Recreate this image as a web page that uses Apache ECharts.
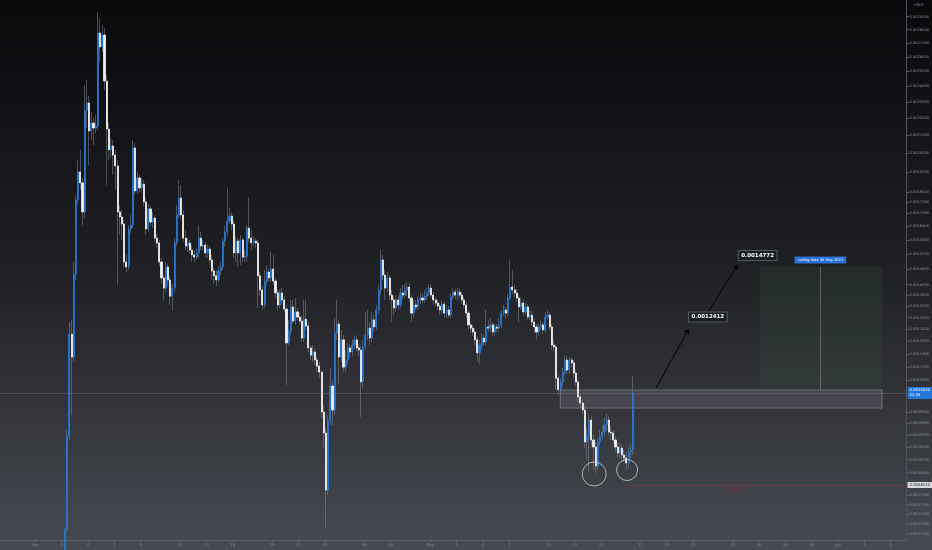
<!DOCTYPE html>
<html><head><meta charset="utf-8">
<script src="https://cdn.jsdelivr.net/npm/echarts@6/dist/echarts.min.js"></script>
<style>html,body{margin:0;padding:0;background:#000}#c{width:932px;height:550px}</style>
</head><body><div id="c"></div>
<script>
// ---- data (4h candles, USDT) ----
const candleStart = Date.UTC(2021, 3, 3, 6);
const candleStepHours = 4;
const open = [
.6625e-3,.7187e-3,.9278e-3,1.224e-3,1.150e-3,1.441e-3,1.762e-3,1.902e-3,1.846e-3,1.706e-3,
2.251e-3,2.294e-3,2.126e-3,2.172e-3,2.143e-3,2.155e-3,2.774e-3,2.671e-3,2.759e-3,2.435e-3,
2.137e-3,2.019e-3,2.041e-3,1.991e-3,1.933e-3,1.706e-3,1.683e-3,1.651e-3,1.489e-3,1.469e-3,
1.629e-3,1.646e-3,2.030e-3,1.806e-3,1.871e-3,1.821e-3,1.840e-3,1.753e-3,1.629e-3,1.720e-3,
1.660e-3,1.678e-3,1.589e-3,1.568e-3,1.489e-3,1.426e-3,1.387e-3,1.469e-3,1.418e-3,1.357e-3,
1.387e-3,1.568e-3,1.692e-3,1.772e-3,1.692e-3,1.589e-3,1.555e-3,1.568e-3,1.538e-3,1.518e-3,
1.509e-3,1.526e-3,1.589e-3,1.555e-3,1.559e-3,1.526e-3,1.542e-3,1.497e-3,1.453e-3,1.434e-3,
1.418e-3,1.453e-3,1.469e-3,1.576e-3,1.615e-3,1.664e-3,1.687e-3,1.651e-3,1.526e-3,1.576e-3,
1.526e-3,1.581e-3,1.509e-3,1.513e-3,1.633e-3,1.589e-3,1.568e-3,1.576e-3,1.568e-3,1.434e-3,
1.380e-3,1.325e-3,1.414e-3,1.449e-3,1.426e-3,1.461e-3,1.414e-3,1.369e-3,1.325e-3,1.369e-3,
1.343e-3,1.310e-3,1.195e-3,1.234e-3,1.318e-3,1.268e-3,1.300e-3,1.282e-3,1.268e-3,1.211e-3,
1.275e-3,1.251e-3,1.179e-3,1.156e-3,1.166e-3,1.141e-3,1.122e-3,1.104e-3,.9904e-3,.9354e-3,
.8013e-3,.9691e-3,1.063e-3,.9958e-3,1.228e-3,1.258e-3,1.150e-3,1.205e-3,1.119e-3,1.141e-3,
1.179e-3,1.166e-3,1.188e-3,1.205e-3,1.179e-3,1.172e-3,1.075e-3,1.182e-3,1.221e-3,1.244e-3,
1.211e-3,1.272e-3,1.248e-3,1.307e-3,1.380e-3,1.497e-3,1.437e-3,1.387e-3,1.426e-3,1.361e-3,
1.343e-3,1.314e-3,1.343e-3,1.325e-3,1.369e-3,1.361e-3,1.380e-3,1.391e-3,1.350e-3,1.296e-3,
1.325e-3,1.318e-3,1.343e-3,1.350e-3,1.343e-3,1.357e-3,1.369e-3,1.387e-3,1.361e-3,1.343e-3,
1.332e-3,1.321e-3,1.307e-3,1.328e-3,1.296e-3,1.307e-3,1.289e-3,1.354e-3,1.372e-3,1.361e-3,
1.372e-3,1.361e-3,1.343e-3,1.325e-3,1.296e-3,1.255e-3,1.244e-3,1.231e-3,1.205e-3,1.163e-3,
1.188e-3,1.211e-3,1.198e-3,1.248e-3,1.244e-3,1.255e-3,1.231e-3,1.248e-3,1.244e-3,1.255e-3,
1.296e-3,1.307e-3,1.296e-3,1.350e-3,1.391e-3,1.380e-3,1.369e-3,1.350e-3,1.318e-3,1.332e-3,
1.300e-3,1.318e-3,1.282e-3,1.289e-3,1.265e-3,1.248e-3,1.231e-3,1.248e-3,1.255e-3,1.238e-3,
1.282e-3,1.289e-3,1.248e-3,1.188e-3,1.182e-3,1.086e-3,1.052e-3,1.075e-3,1.104e-3,1.141e-3,
1.110e-3,1.141e-3,1.132e-3,1.101e-3,1.075e-3,1.032e-3,1.015e-3,.9958e-3,.9129e-3,.9278e-3,
.9691e-3,.9179e-3,.9006e-3,.8553e-3,.9129e-3,.9278e-3,.9380e-3,.9560e-3,.9691e-3,.9380e-3,
.9354e-3,.9179e-3,.9006e-3,.8861e-3,.8982e-3,.8813e-3,.8741e-3,.8623e-3,.8885e-3,.8933e-3
];
const close = [
.7187e-3,.9278e-3,1.224e-3,1.150e-3,1.441e-3,1.762e-3,1.902e-3,1.846e-3,1.706e-3,2.251e-3,
2.294e-3,2.126e-3,2.172e-3,2.143e-3,2.155e-3,2.774e-3,2.671e-3,2.759e-3,2.435e-3,2.137e-3,
2.019e-3,2.041e-3,1.991e-3,1.933e-3,1.706e-3,1.683e-3,1.651e-3,1.489e-3,1.469e-3,1.629e-3,
1.646e-3,2.030e-3,1.806e-3,1.871e-3,1.821e-3,1.840e-3,1.753e-3,1.629e-3,1.720e-3,1.660e-3,
1.678e-3,1.589e-3,1.568e-3,1.489e-3,1.426e-3,1.387e-3,1.469e-3,1.418e-3,1.357e-3,1.387e-3,
1.568e-3,1.692e-3,1.772e-3,1.692e-3,1.589e-3,1.555e-3,1.568e-3,1.538e-3,1.518e-3,1.509e-3,
1.526e-3,1.589e-3,1.555e-3,1.559e-3,1.526e-3,1.542e-3,1.497e-3,1.453e-3,1.434e-3,1.418e-3,
1.453e-3,1.469e-3,1.576e-3,1.615e-3,1.664e-3,1.687e-3,1.651e-3,1.526e-3,1.576e-3,1.526e-3,
1.581e-3,1.509e-3,1.513e-3,1.633e-3,1.589e-3,1.568e-3,1.576e-3,1.568e-3,1.434e-3,1.380e-3,
1.325e-3,1.414e-3,1.449e-3,1.426e-3,1.461e-3,1.414e-3,1.369e-3,1.325e-3,1.369e-3,1.343e-3,
1.310e-3,1.195e-3,1.234e-3,1.318e-3,1.268e-3,1.300e-3,1.282e-3,1.268e-3,1.211e-3,1.275e-3,
1.251e-3,1.179e-3,1.156e-3,1.166e-3,1.141e-3,1.122e-3,1.104e-3,.9904e-3,.9354e-3,.8013e-3,
.9691e-3,1.063e-3,.9958e-3,1.228e-3,1.258e-3,1.150e-3,1.205e-3,1.119e-3,1.141e-3,1.179e-3,
1.166e-3,1.188e-3,1.205e-3,1.179e-3,1.172e-3,1.075e-3,1.182e-3,1.221e-3,1.244e-3,1.211e-3,
1.272e-3,1.248e-3,1.307e-3,1.380e-3,1.497e-3,1.437e-3,1.387e-3,1.426e-3,1.361e-3,1.343e-3,
1.314e-3,1.343e-3,1.325e-3,1.369e-3,1.361e-3,1.380e-3,1.391e-3,1.350e-3,1.296e-3,1.325e-3,
1.318e-3,1.343e-3,1.350e-3,1.343e-3,1.357e-3,1.369e-3,1.387e-3,1.361e-3,1.343e-3,1.332e-3,
1.321e-3,1.307e-3,1.328e-3,1.296e-3,1.307e-3,1.289e-3,1.354e-3,1.372e-3,1.361e-3,1.372e-3,
1.361e-3,1.343e-3,1.325e-3,1.296e-3,1.255e-3,1.244e-3,1.231e-3,1.205e-3,1.163e-3,1.188e-3,
1.211e-3,1.198e-3,1.248e-3,1.244e-3,1.255e-3,1.231e-3,1.248e-3,1.244e-3,1.255e-3,1.296e-3,
1.307e-3,1.296e-3,1.350e-3,1.391e-3,1.380e-3,1.369e-3,1.350e-3,1.318e-3,1.332e-3,1.300e-3,
1.318e-3,1.282e-3,1.289e-3,1.265e-3,1.248e-3,1.231e-3,1.248e-3,1.255e-3,1.238e-3,1.282e-3,
1.289e-3,1.248e-3,1.188e-3,1.182e-3,1.086e-3,1.052e-3,1.075e-3,1.104e-3,1.141e-3,1.110e-3,
1.141e-3,1.132e-3,1.101e-3,1.075e-3,1.032e-3,1.015e-3,.9958e-3,.9129e-3,.9278e-3,.9691e-3,
.9179e-3,.9006e-3,.8553e-3,.9129e-3,.9278e-3,.9380e-3,.9560e-3,.9691e-3,.9380e-3,.9354e-3,
.9179e-3,.9006e-3,.8861e-3,.8982e-3,.8813e-3,.8741e-3,.8623e-3,.8885e-3,.8933e-3,1.043e-3
];
const low = [
.6625e-3,.7148e-3,.9179e-3,.9824e-3,1.135e-3,1.418e-3,1.738e-3,1.811e-3,1.646e-3,1.678e-3,
2.143e-3,1.938e-3,2.074e-3,2.046e-3,2.114e-3,2.131e-3,2.564e-3,2.635e-3,2.376e-3,1.835e-3,
1.965e-3,1.975e-3,1.886e-3,1.811e-3,1.399e-3,1.602e-3,1.581e-3,1.465e-3,1.449e-3,1.457e-3,
1.611e-3,1.633e-3,1.786e-3,1.791e-3,1.801e-3,1.796e-3,1.734e-3,1.602e-3,1.615e-3,1.642e-3,
1.633e-3,1.572e-3,1.551e-3,1.473e-3,1.406e-3,1.343e-3,1.372e-3,1.395e-3,1.325e-3,1.307e-3,
1.372e-3,1.555e-3,1.678e-3,1.669e-3,1.572e-3,1.538e-3,1.530e-3,1.522e-3,1.489e-3,1.489e-3,
1.497e-3,1.505e-3,1.538e-3,1.538e-3,1.505e-3,1.505e-3,1.477e-3,1.418e-3,1.403e-3,1.395e-3,
1.406e-3,1.437e-3,1.457e-3,1.555e-3,1.598e-3,1.651e-3,1.624e-3,1.505e-3,1.489e-3,1.469e-3,
1.477e-3,1.489e-3,1.489e-3,1.489e-3,1.572e-3,1.538e-3,1.551e-3,1.547e-3,1.314e-3,1.357e-3,
1.307e-3,1.314e-3,1.399e-3,1.410e-3,1.410e-3,1.399e-3,1.350e-3,1.307e-3,1.314e-3,1.325e-3,
1.300e-3,1.066e-3,1.188e-3,1.221e-3,1.258e-3,1.255e-3,1.272e-3,1.258e-3,1.198e-3,1.198e-3,
1.238e-3,1.166e-3,1.141e-3,1.135e-3,1.125e-3,1.104e-3,1.086e-3,.9744e-3,.8982e-3,.7207e-3,
.7905e-3,.9560e-3,.9560e-3,.9824e-3,1.205e-3,1.066e-3,1.135e-3,1.104e-3,1.104e-3,1.125e-3,
1.147e-3,1.153e-3,1.172e-3,1.166e-3,1.153e-3,.9771e-3,1.057e-3,1.172e-3,1.205e-3,1.188e-3,
1.198e-3,1.231e-3,1.238e-3,1.293e-3,1.361e-3,1.418e-3,1.343e-3,1.372e-3,1.343e-3,1.265e-3,
1.289e-3,1.300e-3,1.307e-3,1.314e-3,1.343e-3,1.350e-3,1.357e-3,1.336e-3,1.265e-3,1.279e-3,
1.307e-3,1.307e-3,1.328e-3,1.332e-3,1.332e-3,1.343e-3,1.357e-3,1.350e-3,1.328e-3,1.321e-3,
1.307e-3,1.289e-3,1.293e-3,1.279e-3,1.279e-3,1.279e-3,1.279e-3,1.343e-3,1.346e-3,1.343e-3,
1.350e-3,1.328e-3,1.314e-3,1.279e-3,1.238e-3,1.228e-3,1.218e-3,1.188e-3,1.135e-3,1.128e-3,
1.172e-3,1.185e-3,1.185e-3,1.231e-3,1.228e-3,1.218e-3,1.218e-3,1.231e-3,1.231e-3,1.244e-3,
1.286e-3,1.279e-3,1.286e-3,1.343e-3,1.365e-3,1.354e-3,1.336e-3,1.265e-3,1.307e-3,1.286e-3,
1.289e-3,1.272e-3,1.272e-3,1.251e-3,1.228e-3,1.205e-3,1.218e-3,1.238e-3,1.224e-3,1.228e-3,
1.272e-3,1.238e-3,1.172e-3,1.166e-3,1.052e-3,1.037e-3,1.040e-3,1.063e-3,1.095e-3,1.098e-3,
1.098e-3,1.119e-3,1.086e-3,1.063e-3,1.018e-3,1.001e-3,.9850e-3,.8982e-3,.8693e-3,.8414e-3,
.9031e-3,.8460e-3,.8391e-3,.8460e-3,.9031e-3,.9179e-3,.9278e-3,.9431e-3,.9278e-3,.9179e-3,
.9080e-3,.8885e-3,.8741e-3,.8741e-3,.8693e-3,.8646e-3,.8460e-3,.8506e-3,.8741e-3,.8813e-3
];
const high = [
.7226e-3,.9431e-3,1.265e-3,1.272e-3,1.489e-3,1.786e-3,1.965e-3,2.019e-3,1.871e-3,2.409e-3,
2.442e-3,2.338e-3,2.238e-3,2.202e-3,2.220e-3,2.937e-3,2.890e-3,2.835e-3,2.812e-3,2.475e-3,
2.178e-3,2.086e-3,2.074e-3,2.019e-3,1.965e-3,1.738e-3,1.715e-3,1.669e-3,1.518e-3,1.646e-3,
1.692e-3,2.074e-3,2.057e-3,1.902e-3,1.886e-3,1.871e-3,1.861e-3,1.772e-3,1.743e-3,1.734e-3,
1.706e-3,1.692e-3,1.607e-3,1.581e-3,1.505e-3,1.437e-3,1.489e-3,1.481e-3,1.434e-3,1.403e-3,
1.589e-3,1.738e-3,1.861e-3,1.835e-3,1.715e-3,1.624e-3,1.589e-3,1.581e-3,1.559e-3,1.538e-3,
1.547e-3,1.646e-3,1.615e-3,1.581e-3,1.572e-3,1.563e-3,1.555e-3,1.518e-3,1.465e-3,1.457e-3,
1.473e-3,1.489e-3,1.589e-3,1.642e-3,1.821e-3,1.724e-3,1.706e-3,1.669e-3,1.598e-3,1.589e-3,
1.602e-3,1.589e-3,1.538e-3,1.646e-3,1.777e-3,1.624e-3,1.598e-3,1.589e-3,1.581e-3,1.449e-3,
1.395e-3,1.457e-3,1.477e-3,1.465e-3,1.530e-3,1.518e-3,1.426e-3,1.380e-3,1.380e-3,1.387e-3,
1.357e-3,1.325e-3,1.272e-3,1.343e-3,1.343e-3,1.350e-3,1.314e-3,1.300e-3,1.286e-3,1.343e-3,
1.343e-3,1.265e-3,1.188e-3,1.188e-3,1.179e-3,1.153e-3,1.135e-3,1.110e-3,1.009e-3,.9482e-3,
.9824e-3,1.116e-3,1.080e-3,1.279e-3,1.343e-3,1.272e-3,1.238e-3,1.221e-3,1.172e-3,1.195e-3,
1.192e-3,1.205e-3,1.221e-3,1.218e-3,1.192e-3,1.185e-3,1.205e-3,1.300e-3,1.307e-3,1.265e-3,
1.300e-3,1.289e-3,1.325e-3,1.399e-3,1.538e-3,1.518e-3,1.457e-3,1.449e-3,1.437e-3,1.380e-3,
1.357e-3,1.361e-3,1.357e-3,1.387e-3,1.399e-3,1.403e-3,1.406e-3,1.406e-3,1.361e-3,1.343e-3,
1.343e-3,1.357e-3,1.372e-3,1.365e-3,1.380e-3,1.387e-3,1.403e-3,1.403e-3,1.372e-3,1.354e-3,
1.343e-3,1.332e-3,1.343e-3,1.336e-3,1.325e-3,1.321e-3,1.369e-3,1.387e-3,1.384e-3,1.387e-3,
1.384e-3,1.372e-3,1.354e-3,1.336e-3,1.307e-3,1.265e-3,1.255e-3,1.244e-3,1.218e-3,1.205e-3,
1.228e-3,1.221e-3,1.307e-3,1.272e-3,1.279e-3,1.265e-3,1.261e-3,1.258e-3,1.279e-3,1.307e-3,
1.325e-3,1.318e-3,1.365e-3,1.497e-3,1.457e-3,1.399e-3,1.384e-3,1.361e-3,1.350e-3,1.343e-3,
1.332e-3,1.328e-3,1.307e-3,1.303e-3,1.279e-3,1.258e-3,1.261e-3,1.272e-3,1.265e-3,1.300e-3,
1.307e-3,1.300e-3,1.258e-3,1.205e-3,1.192e-3,1.095e-3,1.086e-3,1.116e-3,1.156e-3,1.153e-3,
1.150e-3,1.147e-3,1.141e-3,1.110e-3,1.083e-3,1.040e-3,1.023e-3,1.007e-3,.9482e-3,.9850e-3,
.9797e-3,.9329e-3,.9129e-3,.9228e-3,.9431e-3,.9560e-3,.9744e-3,.9877e-3,.9797e-3,.9534e-3,
.9431e-3,.9278e-3,.9129e-3,.9105e-3,.9080e-3,.8933e-3,.8885e-3,.9006e-3,.9080e-3,1.092e-3
];

// axis ticks
const priceTicks = [0.0029,0.0028,0.0027,0.0026,0.0025,0.0024,0.0023,0.0022,0.0021,0.0020,
  0.0019,0.0018,0.00175,0.0017,0.00164,0.00158,0.00152,0.00146,0.0014,0.00136,0.00132,0.00128,
  0.00124,0.0012,0.00116,0.00112,0.00108,0.00099,0.00096,0.00093,0.0009,0.00087,0.00084,
  0.00079,0.00077,0.00075,0.00073,0.00071];
const dateTicks = ['2021-04-01','2021-04-03','2021-04-05','2021-04-07','2021-04-09','2021-04-12',
  '2021-04-14','2021-04-16','2021-04-19','2021-04-21','2021-04-23','2021-04-26','2021-04-28',
  '2021-05-01','2021-05-03','2021-05-05','2021-05-07','2021-05-10','2021-05-12','2021-05-14',
  '2021-05-17','2021-05-19','2021-05-21','2021-05-24','2021-05-26','2021-05-28','2021-05-30',
  '2021-06-01','2021-06-03','2021-06-05'];
const dateTickLabels = ['Apr','3','5','7','9','12','14','16','19','21','23','26','28',
  'May','3','5','7','10','12','14','17','19','21','24','26','28','30','Jun','3','5'];

// annotations (time, price)
const targetPrices = [0.0012412, 0.0014772];
const arrow1 = {from: ['2021-05-18T03:52Z', 1.057e-3], to: ['2021-05-20T15:49Z', targetPrices[0]]};
const arrow2 = {from: ['2021-05-22T04:09Z', 1.303e-3], to: ['2021-05-24T08:50Z', targetPrices[1]]};
const grayZone = {from: '2021-05-10T21:27Z', to: '2021-06-04T08:17Z', top: 1.0515e-3, bottom: 1.001e-3};
const greenZone = {from: '2021-05-26T00:49Z', to: '2021-06-04T08:17Z', mid: '2021-05-30T15:39Z', top: 1.469e-3, bottom: 1.0515e-3};
const greenZoneTag = 'Listing date 30 May 2021';
const lowCircles = [['2021-05-13T11:14Z', 0.8369e-3, 24], ['2021-05-15T23:11Z', 0.8460e-3, 21]];
const stopLine = {from: '2021-05-16T04:38Z', price: 0.8122e-3, textAt: '2021-05-24T03:23Z', textPrice: 0.8013e-3};
const countdown = '02:35';

const X_MIN = Date.UTC(2021, 2, 29, 7, 30);
const X_MAX = Date.UTC(2021, 5, 6, 4, 55);
const Y_MIN = 0.0006995, Y_MAX = 0.0030346;

const T = s => new Date(s).getTime();
const times = open.map((_, i) => candleStart + i * candleStepHours * 3600e3);
const wickData = open.map((o, i) => [o, close[i], low[i], high[i]]);
const bodyData = open.map((o, i) => [o, close[i], Math.min(o, close[i]), Math.max(o, close[i])]);
const tickTimes = dateTicks.map(d => T(d + 'T00:00:00Z'));
const tickLabelMap = new Map(tickTimes.map((t, i) => [t, dateTickLabels[i]]));
const lastClose = close[close.length - 1];

const UP = '#2476d8', DOWN = '#f4f4f4', WICK = 'rgba(128,131,142,0.55)';

const chart = echarts.init(document.getElementById('c'), null, {renderer: 'canvas'});
chart.setOption({
  animation: false,
  backgroundColor: {type: 'linear', x: 0, y: 0, x2: 0, y2: 1, colorStops: [
    {offset: 0, color: '#08090b'}, {offset: 0.5, color: '#1f2125'}, {offset: 1, color: '#484a52'}]},
  grid: {left: 0, right: 22, top: 0, bottom: 10, containLabel: false},
  xAxis: {
    type: 'value', min: X_MIN, max: X_MAX,
    axisLine: {show: true, onZero: false, lineStyle: {color: '#5a5d66', width: 1}},
    axisTick: {show: true, length: 2, lineStyle: {color: '#6a6d76'}, customValues: tickTimes},
    axisLabel: {show: true, customValues: tickTimes, fontSize: 3.8, color: '#8d909a', margin: 3,
      fontFamily: 'DejaVu Sans', formatter: v => tickLabelMap.get(v) || ''},
    splitLine: {show: false}
  },
  yAxis: {
    type: 'log', logBase: 10, min: Y_MIN, max: Y_MAX, position: 'right',
    axisLine: {show: true, lineStyle: {color: '#50535c', width: 1}},
    axisTick: {show: true, length: 2, lineStyle: {color: '#6a6d76'}, customValues: priceTicks},
    axisLabel: {show: true, customValues: priceTicks, fontSize: 3.6, color: '#8d909a', margin: 3,
      fontFamily: 'DejaVu Sans', formatter: v => Number(v).toFixed(7)},
    splitLine: {show: false}
  },
  series: [
    {
      type: 'candlestick', name: 'wick', barWidth: 1, clip: true,
      data: times.map((t, i) => [t, ...wickData[i]]),
      encode: {x: 0, y: [1, 2, 3, 4]},
      itemStyle: {color: 'transparent', color0: 'transparent', borderColor: WICK, borderColor0: WICK, borderWidth: 1},
      emphasis: {disabled: true}
    },
    {
      type: 'candlestick', name: 'body', barWidth: 1.6, clip: true,
      data: times.map((t, i) => [t, ...bodyData[i]]),
      encode: {x: 0, y: [1, 2, 3, 4]},
      itemStyle: {color: UP, color0: DOWN, borderColor: UP, borderColor0: DOWN, borderWidth: 0.8},
      emphasis: {disabled: true},
      markArea: {
        silent: true,
        data: [
          [{coord: [T(grayZone.from), grayZone.top], itemStyle: {color: 'rgba(140,143,155,0.22)', borderColor: 'rgba(170,173,185,0.45)', borderWidth: 1}},
           {coord: [T(grayZone.to), grayZone.bottom]}],
          [{coord: [T(greenZone.from), greenZone.top], itemStyle: {color: 'rgba(70,105,70,0.16)', borderWidth: 0}},
           {coord: [T(greenZone.to), greenZone.bottom]}]
        ]
      },
      markLine: {
        silent: true, animation: false, symbol: ['none', 'none'],
        data: [
          [{coord: [X_MIN, lastClose], lineStyle: {color: 'rgba(130,133,145,0.35)', width: 1, type: 'solid'},
            label: {show: true, position: 'end', distance: 1, formatter: () => lastClose.toFixed(7) + '\n' + countdown,
              backgroundColor: '#2476d8', color: '#ffffff', fontSize: 3.8, lineHeight: 5, padding: [1, 2], fontFamily: 'DejaVu Sans'}},
           {coord: [X_MAX, lastClose]}],
          [{coord: [T(stopLine.from), stopLine.price], lineStyle: {color: 'rgba(170,45,85,0.75)', width: 1, type: [2, 2]},
            label: {show: true, position: 'end', distance: 1, formatter: () => stopLine.price.toFixed(7),
              backgroundColor: '#d9dae0', color: '#131722', fontSize: 3.8, padding: [1, 2], fontFamily: 'DejaVu Sans'}},
           {coord: [X_MAX, stopLine.price]}],
          [{coord: [T(arrow1.from[0]), arrow1.from[1]], lineStyle: {color: '#000000', width: 1, type: 'solid'}, label: {show: false}},
           {coord: [T(arrow1.to[0]), arrow1.to[1]], symbol: 'arrow', symbolSize: 5}],
          [{coord: [T(arrow2.from[0]), arrow2.from[1]], lineStyle: {color: '#000000', width: 1, type: 'solid'}, label: {show: false}},
           {coord: [T(arrow2.to[0]), arrow2.to[1]], symbol: 'arrow', symbolSize: 5}],
          [{coord: [T(greenZone.mid), greenZone.top], lineStyle: {color: 'rgba(190,190,195,0.35)', width: 1, type: 'solid'}, label: {show: false}},
           {coord: [T(greenZone.mid), greenZone.bottom]}]
        ]
      },
      markPoint: {
        silent: true, animation: false,
        data: [
          ...lowCircles.map(c => ({coord: [T(c[0]), c[1]], symbol: 'circle', symbolSize: c[2],
            itemStyle: {color: 'rgba(0,0,0,0)', borderColor: 'rgba(215,216,222,0.75)', borderWidth: 1}, label: {show: false}})),
          {coord: [T(arrow1.to[0]), arrow1.to[1]], symbol: 'circle', symbolSize: 0,
            label: {show: true, formatter: targetPrices[0].toFixed(7), offset: [19, -12], backgroundColor: '#1a1d24',
              borderColor: '#565963', borderWidth: 1, color: '#ffffff', fontSize: 5.5, padding: [1.5, 2.5], fontFamily: 'DejaVu Sans', fontWeight: 'bold'}},
          {coord: [T(arrow2.to[0]), arrow2.to[1]], symbol: 'circle', symbolSize: 0,
            label: {show: true, formatter: targetPrices[1].toFixed(7), offset: [20, -9.5], backgroundColor: '#1a1d24',
              borderColor: '#565963', borderWidth: 1, color: '#ffffff', fontSize: 5.5, padding: [1.5, 2.5], fontFamily: 'DejaVu Sans', fontWeight: 'bold'}},
          {coord: [T(greenZone.mid), greenZone.top], symbol: 'circle', symbolSize: 0,
            label: {show: true, formatter: greenZoneTag, offset: [0, -7], backgroundColor: '#2a6fd6',
              color: '#ffffff', fontSize: 3.6, padding: [1.5, 3], fontFamily: 'DejaVu Sans'}},
          {coord: [T(stopLine.textAt), stopLine.textPrice], symbol: 'circle', symbolSize: 0,
            label: {show: true, formatter: 'STOP', color: '#8e2446', fontSize: 6, fontFamily: 'DejaVu Sans'}}
        ]
      }
    }
  ],
  graphic: [
    {type: 'text', left: 914, top: 3, style: {text: 'USDT', fill: '#8d909a', fontSize: 3.6, fontFamily: 'DejaVu Sans'}}
  ]
});
</script>
</body></html>
